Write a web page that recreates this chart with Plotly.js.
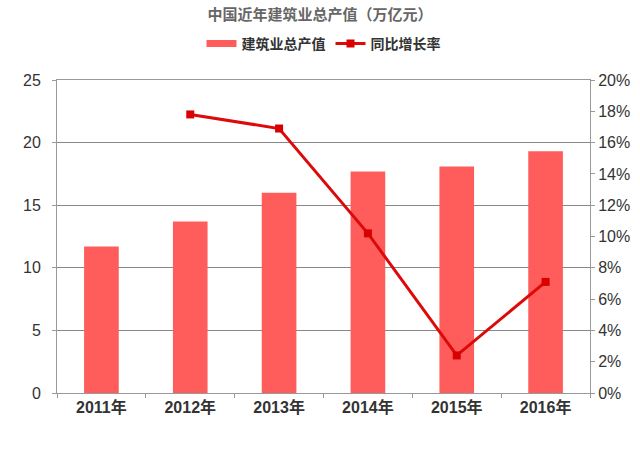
<!DOCTYPE html>
<html>
<head>
<meta charset="utf-8">
<script src="https://cdn.plot.ly/plotly-3.0.1.min.js"></script>
<style>html,body{margin:0;padding:0;background:#fff;}#chart{width:640px;height:453px;}</style>
</head>
<body>
<div id="chart"></div>
<script>
const categories = ['2011年', '2012年', '2013年', '2014年', '2015年', '2016年'];
const outputValues = [11.7, 13.7, 16.0, 17.7, 18.1, 19.3];
const growthRates = [null, 17.8, 16.9, 10.2, 2.4, 7.1];
const leftTicks = [0, 5, 10, 15, 20, 25];
const rightTicks = [0, 2, 4, 6, 8, 10, 12, 14, 16, 18, 20];
const rightTickLabels = rightTicks.map(v => v + '%');

const FONT = 'Liberation Sans, Arial, Noto Sans CJK SC, sans-serif';
const BAR_COLOR = '#FF5C5C';

const traces = [
  {
    type: 'bar',
    name: '建筑业总产值',
    x: categories,
    y: outputValues,
    width: 0.39,
    marker: {color: BAR_COLOR},
    yaxis: 'y',
    showlegend: false
  },
  {
    type: 'scatter',
    mode: 'lines',
    name: '建筑业总产值',
    x: [null],
    y: [null],
    line: {color: BAR_COLOR, width: 7},
    yaxis: 'y',
    showlegend: true
  },
  {
    type: 'scatter',
    mode: 'lines+markers',
    name: '同比增长率',
    x: categories,
    y: growthRates,
    yaxis: 'y2',
    line: {color: '#DD0A0A', width: 3},
    marker: {symbol: 'square', size: 8, color: '#D80000'}
  }
];

const layout = {
  width: 640,
  height: 453,
  margin: {l: 57, r: 50, t: 80, b: 60},
  paper_bgcolor: '#fff',
  plot_bgcolor: '#fff',
  font: {family: FONT, color: '#333', size: 16},
  title: {
    text: '<b>中国近年建筑业总产值（万亿元）</b>',
    font: {family: 'Noto Sans CJK SC, sans-serif', size: 15, color: '#666'},
    x: 0.5, xanchor: 'center', y: 0.967, yanchor: 'middle'
  },
  showlegend: true,
  legend: {
    orientation: 'h',
    x: 0.5, xanchor: 'center',
    y: 1.115, yanchor: 'middle',
    font: {family: 'Noto Sans CJK SC, sans-serif', size: 14, color: '#333', weight: 'bold'},
    traceorder: 'normal',
    itemwidth: 30
  },
  xaxis: {
    type: 'category',
    tickfont: {family: FONT, size: 16, color: '#333', weight: 'bold'},
    showline: true, linecolor: '#999', linewidth: 1,
    ticks: 'outside', tickson: 'boundaries', ticklen: 4, tickcolor: '#999',
    showgrid: false,
    mirror: true
  },
  yaxis: {
    range: [0, 25],
    tickvals: leftTicks,
    tickfont: {family: FONT, size: 16, color: '#333'},
    showline: true, linecolor: '#999', linewidth: 1,
    ticks: 'outside', ticklen: 4, tickcolor: '#999',
    showgrid: true, gridcolor: '#888', gridwidth: 1,
    zeroline: false,
    ticklabelstandoff: 8
  },
  yaxis2: {
    overlaying: 'y',
    side: 'right',
    range: [0, 20],
    tickvals: rightTicks,
    ticktext: rightTickLabels,
    tickfont: {family: FONT, size: 16, color: '#333'},
    showline: true, linecolor: '#999', linewidth: 1,
    ticks: 'outside', ticklen: 4, tickcolor: '#999',
    showgrid: false, zeroline: false
  }
};

Plotly.newPlot('chart', traces, layout, {displayModeBar: false, staticPlot: true});
</script>
</body>
</html>
